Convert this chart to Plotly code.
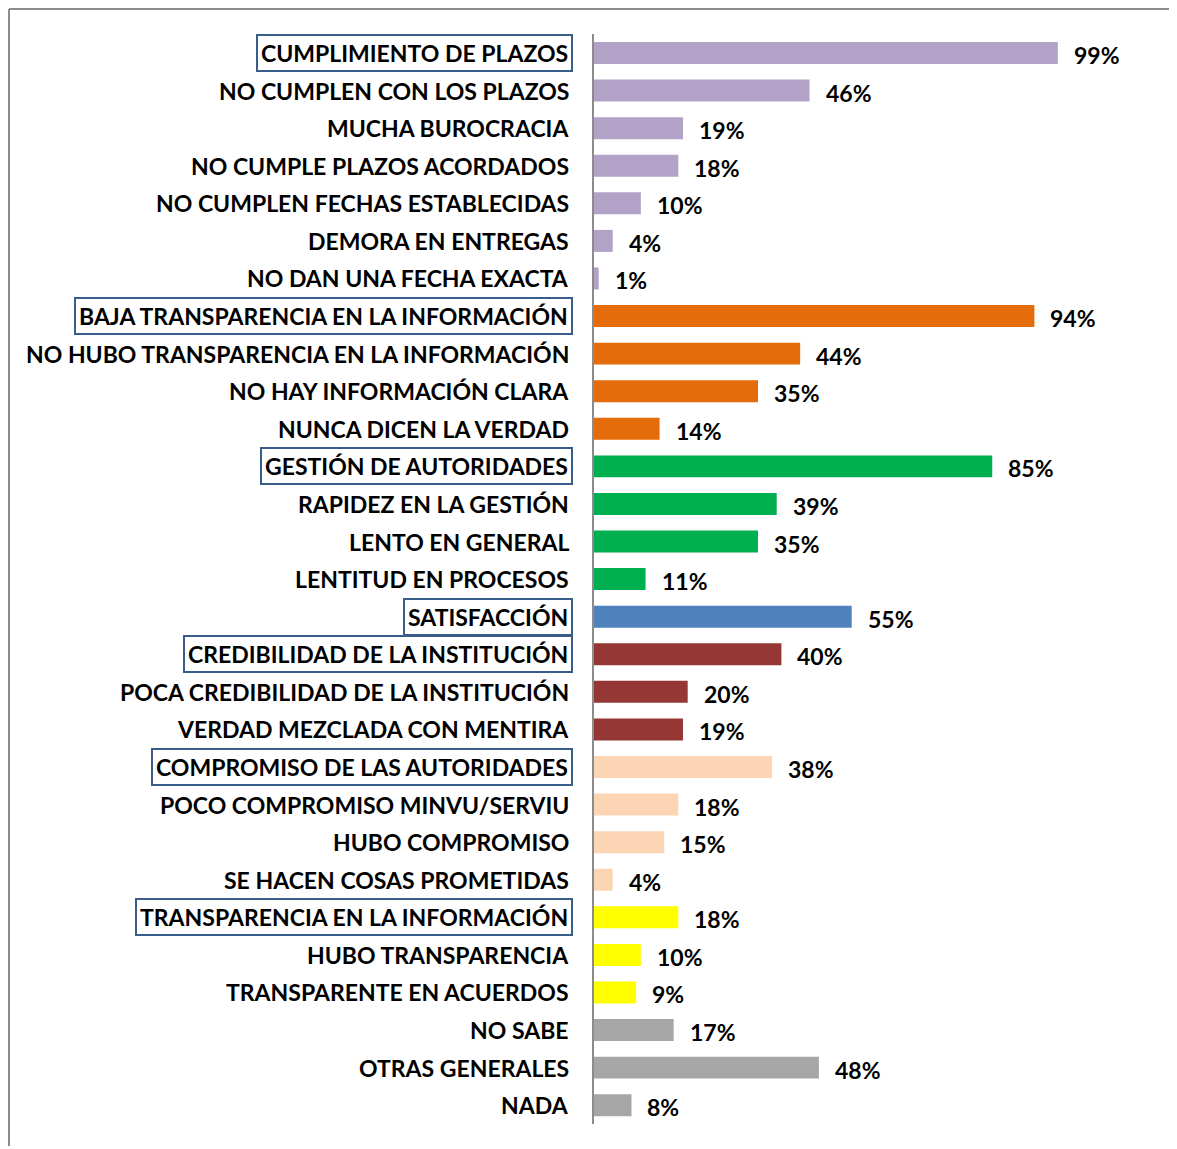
import plotly.graph_objects as go

categories = [
    "CUMPLIMIENTO DE PLAZOS", "NO CUMPLEN CON LOS PLAZOS", "MUCHA BUROCRACIA",
    "NO CUMPLE PLAZOS ACORDADOS", "NO CUMPLEN FECHAS ESTABLECIDAS", "DEMORA EN ENTREGAS",
    "NO DAN UNA FECHA EXACTA", "BAJA TRANSPARENCIA EN LA INFORMACIÓN",
    "NO HUBO TRANSPARENCIA EN LA INFORMACIÓN", "NO HAY INFORMACIÓN CLARA",
    "NUNCA DICEN LA VERDAD", "GESTIÓN DE AUTORIDADES", "RAPIDEZ EN LA GESTIÓN",
    "LENTO EN GENERAL", "LENTITUD EN PROCESOS", "SATISFACCIÓN",
    "CREDIBILIDAD DE LA INSTITUCIÓN", "POCA CREDIBILIDAD DE LA INSTITUCIÓN",
    "VERDAD MEZCLADA CON MENTIRA", "COMPROMISO DE LAS AUTORIDADES",
    "POCO COMPROMISO MINVU/SERVIU", "HUBO COMPROMISO", "SE HACEN COSAS PROMETIDAS",
    "TRANSPARENCIA EN LA INFORMACIÓN", "HUBO TRANSPARENCIA", "TRANSPARENTE EN ACUERDOS",
    "NO SABE", "OTRAS GENERALES", "NADA",
]
values = [99, 46, 19, 18, 10, 4, 1, 94, 44, 35, 14, 85, 39, 35, 11, 55, 40, 20, 19,
          38, 18, 15, 4, 18, 10, 9, 17, 48, 8]
groups = ["plazos"] * 7 + ["baja"] * 4 + ["gestion"] * 4 + ["satis"] + ["cred"] * 3 + \
         ["comp"] * 4 + ["transp"] * 3 + ["otros"] * 3
headers = ["CUMPLIMIENTO DE PLAZOS", "BAJA TRANSPARENCIA EN LA INFORMACIÓN",
           "GESTIÓN DE AUTORIDADES", "SATISFACCIÓN", "CREDIBILIDAD DE LA INSTITUCIÓN",
           "COMPROMISO DE LAS AUTORIDADES", "TRANSPARENCIA EN LA INFORMACIÓN"]

group_colors = {
    "plazos": "#B3A2C7", "baja": "#E46C0A", "gestion": "#00B050", "satis": "#4F81BD",
    "cred": "#953735", "comp": "#FCD5B5", "transp": "#FFFF00", "otros": "#A6A6A6",
}
colors = [group_colors[g] for g in groups]

FONT = "Lato"
FS = 23

fig = go.Figure(go.Bar(
    x=values, y=categories, orientation="h",
    marker=dict(color=colors, line=dict(width=0)),
    hoverinfo="skip",
))

annotations = []
for cat, v in zip(categories, values):
    boxed = cat in headers
    annotations.append(dict(
        x=0, y=cat, xref="x", yref="y", xanchor="right", yanchor="middle",
        xshift=-21 if boxed else -25, text=cat, showarrow=False,
        font=dict(family=FONT, size=FS, color="black", weight=700),
        bordercolor="#385D8A" if boxed else None,
        borderwidth=2 if boxed else 0, borderpad=3 if boxed else 0,
    ))
    annotations.append(dict(
        x=v, y=cat, xref="x", yref="y", xanchor="left", yanchor="middle",
        xshift=14, yshift=-2, text=f"{v}%", showarrow=False,
        font=dict(family=FONT, size=FS, color="black", weight=700),
    ))

W, H = 1169, 1141
L, T, R, B = 586, 26, 10, 25
pw, ph = W - L - R, H - T - B

fig.update_layout(
    width=W, height=H,
    margin=dict(l=L, r=R, t=T, b=B),
    paper_bgcolor="white", plot_bgcolor="white",
    bargap=0.415,
    showlegend=False,
    xaxis=dict(range=[0, 122.3], visible=False, fixedrange=True),
    yaxis=dict(autorange="reversed", showticklabels=False, ticks="",
               showline=True, linecolor="#8C8C8C", linewidth=2, showgrid=False,
               zeroline=False),
    annotations=annotations,
    shapes=[
        dict(type="line", xref="paper", yref="paper",
             x0=(1 - L) / pw, x1=(W - L) / pw,
             y0=1 + (T - 1) / ph, y1=1 + (T - 1) / ph,
             line=dict(color="#8C8C8C", width=2)),
        dict(type="line", xref="paper", yref="paper",
             x0=(1 - L) / pw, x1=(1 - L) / pw,
             y0=1 + (T - 1) / ph, y1=-(B - 3) / ph,
             line=dict(color="#8C8C8C", width=2)),
    ],
)

fig.write_html("out.html")
